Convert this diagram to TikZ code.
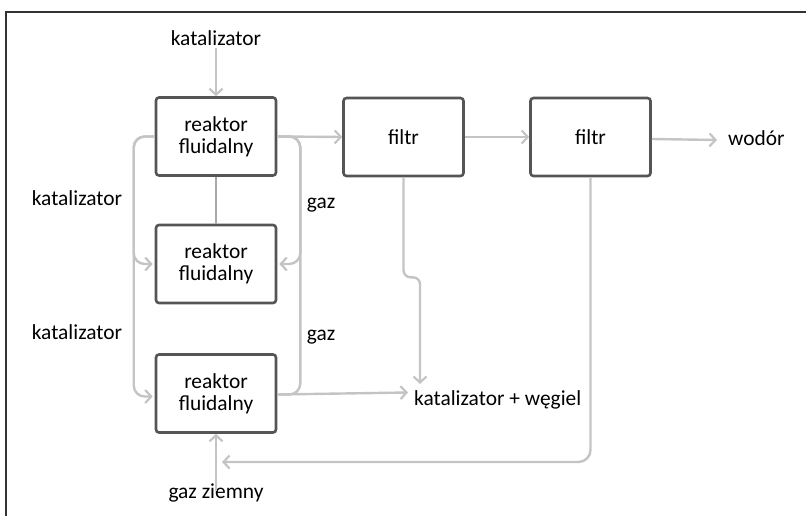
\documentclass[tikz,border=0pt]{standalone}
\usepackage{fontspec}
\setmainfont{Carlito}
\usetikzlibrary{arrows.meta}
\definecolor{boxline}{HTML}{555555}
\definecolor{connline}{HTML}{C4C4C4}
\definecolor{midline}{HTML}{A8A8A8}
\begin{document}
\begin{tikzpicture}[x=1bp,y=-1bp,
  font=\fontsize{21.5}{22}\selectfont,
  unit/.style={draw=boxline, line width=2.6bp, rounded corners=3bp, minimum width=120bp, minimum height=78bp, align=center, inner sep=0pt},
  lbl/.style={inner sep=2bp},
  conn/.style={draw=connline, line width=2.4bp},
  arr/.style={conn, -{Straight Barb[length=6bp,width=13bp,line width=2.2bp]}},
  frame/.style={draw=black!80, line width=2bp}]
\useasboundingbox (0,0) rectangle (806,516);
\draw[frame] (6,516) -- (6,12) -- (806,12);

% boxes
\node[unit] (R1) at (216,136.5) {reaktor\\fluidalny};
\node[unit] (R2) at (216,264) {reaktor\\fluidalny};
\node[unit] (R3) at (216,393.5) {reaktor\\fluidalny};
\node[unit] (F1) at (403.5,137) {filtr};
\node[unit] (F2) at (590.5,137) {filtr};

% labels
\node[lbl] (kt) at (216,38) {katalizator};
\node[lbl] (k1) at (77,198) {katalizator};
\node[lbl] (k2) at (77,332) {katalizator};
\node[lbl] (g1) at (321,205) {gaz};
\node[lbl] (g2) at (321,337) {gaz};
\node[lbl,anchor=west] (wod) at (726,138) {wodór};
\node[lbl,anchor=west] (kw) at (412,400) {katalizator + węgiel};
\node[lbl] (gz) at (216,493) {gaz ziemny};

\coordinate (kwin) at (420,384);
\coordinate (gzin) at (222,462);

% connectors
\draw[arr] (kt.south) -- (R1.north);
\draw[midline, line width=2bp] (R1.south) -- (R2.north);
\draw[arr, rounded corners=11bp] (R1.west) -- ++(-21,0) |- ([xshift=-2bp]R2.west);
\draw[arr, rounded corners=11bp] (R1.west) -- ++(-21,0) |- ([xshift=-2bp,yshift=-3bp]R3.west);
\draw[conn, rounded corners=11bp] (R1.east) -- ++(23,0) |- ([yshift=-1bp]R3.east);
\draw[arr, rounded corners=11bp] (R1.east) -- ++(23,0) |- ([xshift=2bp]R2.east);
\draw[arr] (R1.east) -- (F1.west);
\draw[arr] (F1.east) -- (F2.west);
\draw[arr] ([yshift=-2bp]F2.east) -- ([xshift=-9bp,yshift=-2bp]wod.west);
\draw[arr] ([yshift=-1bp]R3.east) -- ([xshift=-4bp]kw.west |- 0,392.5);
\draw[arr, rounded corners=7bp] (F1.south) -- ++(0,100) -| (kwin);
\draw[arr, rounded corners=12bp] (F2.south) |- (gzin);
\draw[arr] ([yshift=-9bp]gz.north) -- (R3.south);
\end{tikzpicture}
\end{document}
